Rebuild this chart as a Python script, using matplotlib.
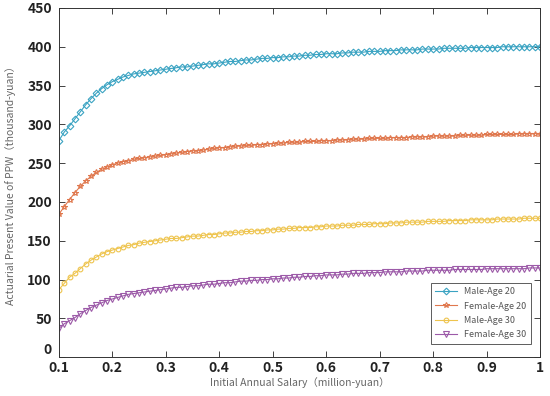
import numpy as np
import matplotlib
matplotlib.use('Agg')
import matplotlib.pyplot as plt

plt.rcParams['font.family'] = ['Noto Sans CJK SC', 'DejaVu Sans']

# initial annual salary, million yuan (0.10 .. 1.00, step 0.01)
salary = np.round(np.arange(10, 101) / 100, 2)

male_20 = [
    279, 290, 298, 307, 316, 325, 333, 340, 346, 351,
    355, 358, 361, 363, 365, 366, 367, 368, 369, 370,
    371, 372, 373, 374, 374, 375, 376, 377, 378, 378,
    379, 380, 381, 381, 382, 383, 383, 384, 385, 385,
    386, 386, 387, 387, 388, 388, 389, 389, 390, 390,
    391, 391, 391, 392, 392, 393, 393, 393, 394, 394,
    394, 395, 395, 395, 396, 396, 396, 396, 397, 397,
    397, 397, 398, 398, 398, 398, 398, 399, 399, 399,
    399, 399, 399, 400, 400, 400, 400, 400, 400, 400,
    400,
]
female_20 = [
    184, 194, 203, 212, 220, 227, 233, 238, 242, 245,
    248, 250, 252, 253, 255, 256, 257, 258, 259, 260,
    261, 262, 263, 264, 265, 266, 266, 267, 268, 269,
    270, 270, 271, 272, 272, 273, 273, 274, 274, 275,
    275, 276, 276, 277, 277, 277, 278, 278, 278, 279,
    279, 279, 280, 280, 280, 281, 281, 281, 282, 282,
    282, 282, 283, 283, 283, 283, 284, 284, 284, 284,
    285, 285, 285, 285, 285, 286, 286, 286, 286, 286,
    287, 287, 287, 287, 287, 287, 288, 288, 288, 288,
    288,
]
male_30 = [
    87, 95, 103, 108, 114, 120, 125, 129, 133, 136,
    138, 140, 142, 144, 145, 147, 148, 149, 150, 151,
    152, 153, 153, 154, 155, 156, 156, 157, 158, 158,
    159, 160, 160, 161, 161, 162, 162, 163, 163, 164,
    164, 165, 165, 166, 166, 167, 167, 167, 168, 168,
    169, 169, 169, 170, 170, 170, 171, 171, 171, 172,
    172, 172, 173, 173, 173, 174, 174, 174, 174, 175,
    175, 175, 175, 176, 176, 176, 176, 177, 177, 177,
    177, 177, 178, 178, 178, 178, 178, 179, 179, 179,
    179,
]
female_30 = [
    37, 43, 47, 51, 56, 60, 64, 67, 70, 73,
    75, 77, 79, 81, 82, 83, 84, 85, 86, 87,
    88, 89, 90, 90, 91, 92, 92, 93, 94, 94,
    95, 96, 96, 97, 98, 98, 99, 99, 100, 100,
    101, 101, 102, 102, 103, 103, 104, 104, 105, 105,
    106, 106, 106, 107, 107, 108, 108, 108, 109, 109,
    109, 110, 110, 110, 110, 111, 111, 111, 111, 112,
    112, 112, 112, 112, 113, 113, 113, 113, 113, 113,
    114, 114, 114, 114, 114, 114, 114, 114, 115, 115,
    115,
]

series = [
    ('Male-Age 20', male_20, '#3aa3c2', 'D'),
    ('Female-Age 20', female_20, '#e0784e', '*'),
    ('Male-Age 30', male_30, '#eec44e', 'o'),
    ('Female-Age 30', female_30, '#9c5aa8', 'v'),
]

fig = plt.figure(figsize=(5.5, 3.96), dpi=100)
ax = fig.add_axes([0.107, 0.098, 0.875, 0.882])

for name, vals, col, mk in series:
    ms = 4.2 if mk in ('*', 'v') else 3.4
    ax.plot(salary, vals, color=col, lw=0.8, marker=mk, ms=ms,
            mfc='none', mec=col, mew=0.8, label=name)

ax.set_xlim(0.1, 1)
ax.set_ylim(0, 450)
ax.set_xticks(np.round(np.arange(1, 11) / 10, 1))
ax.set_xticklabels(['0.1', '0.2', '0.3', '0.4', '0.5', '0.6', '0.7', '0.8', '0.9', '1'])
ax.set_yticks(range(0, 451, 50))
ax.tick_params(direction='in', top=True, right=True, length=4, width=0.6,
               labelsize=10, colors='#222222')
ax.tick_params(axis='x', pad=3)
ax.tick_params(axis='y', pad=5)
for lbl in ax.get_xticklabels() + ax.get_yticklabels():
    lbl.set_fontweight('bold')
# lift the "0" a little so it does not sit on "0.1"
ax.get_yticklabels()[0].set_va('bottom')
for sp in ax.spines.values():
    sp.set_linewidth(0.7)
    sp.set_color('#333333')

ax.set_xlabel('Initial Annual Salary（million-yuan）', fontsize=7.5, color='#666666', labelpad=1)
ax.set_ylabel('Actuarial Present Value of PPW（thousand-yuan）', fontsize=7.5, color='#666666', labelpad=8)

leg = ax.legend(loc='lower right', bbox_to_anchor=(0.99, 0.025), fontsize=6.5,
                frameon=True, fancybox=False, edgecolor='#333333',
                handlelength=2.4, labelspacing=0.6, borderpad=0.5)
leg.get_frame().set_linewidth(0.7)
for t in leg.get_texts():
    t.set_color('#555555')

fig.savefig('out.png', dpi=100)
